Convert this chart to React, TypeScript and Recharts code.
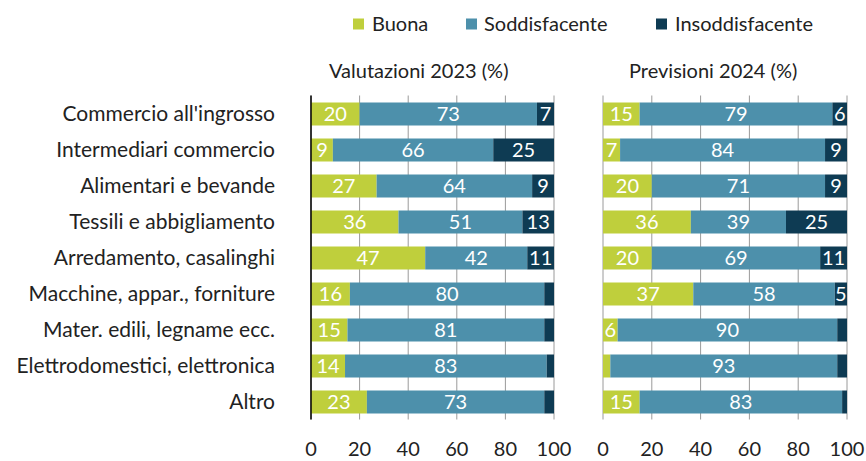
import React from "react";
import { BarChart, Bar, XAxis, YAxis, CartesianGrid, LabelList } from "recharts";

const categories = [
  "Commercio all'ingrosso",
  "Intermediari commercio",
  "Alimentari e bevande",
  "Tessili e abbigliamento",
  "Arredamento, casalinghi",
  "Macchine, appar., forniture",
  "Mater. edili, legname ecc.",
  "Elettrodomestici, elettronica",
  "Altro",
];
const buona2023 = [20, 9, 27, 36, 47, 16, 15, 14, 23];
const sodd2023 = [73, 66, 64, 51, 42, 80, 81, 83, 73];
const insod2023 = [7, 25, 9, 13, 11, 4, 4, 3, 4];
const buona2024 = [15, 7, 20, 36, 20, 37, 6, 3, 15];
const sodd2024 = [79, 84, 71, 39, 69, 58, 90, 93, 83];
const insod2024 = [6, 9, 9, 25, 11, 5, 4, 4, 2];
const xTicks = [0, 20, 40, 60, 80, 100];
const seriesNames = ["Buona", "Soddisfacente", "Insoddisfacente"];
const panelTitles = ["Valutazioni 2023 (%)", "Previsioni 2024 (%)"];
const colors = ["#BFCF3C", "#4D90AB", "#0E3B53"];

const FONT = "Lato, 'Noto Sans', sans-serif";

const data2023 = categories.map((c, i) => ({ cat: c, b: buona2023[i], s: sodd2023[i], n: insod2023[i] }));
const data2024 = categories.map((c, i) => ({ cat: c, b: buona2024[i], s: sodd2024[i], n: insod2024[i] }));

const SegLabel = (props: any) => {
  const { x, y, width, height, value } = props;
  if (value == null || value < 5) return null;
  return (
    <text x={x + width / 2} y={y + height / 2} dy="0.36em" textAnchor="middle" fill="#ffffff" fontSize={20} fontFamily={FONT}>
      {value}
    </text>
  );
};

const Panel = ({ data, showCats, plotW, leftM, rightM }: { data: any[]; showCats: boolean; plotW: number; leftM: number; rightM: number }) => {
  const yw = showCats ? 311 : 0;
  return (
    <BarChart
      width={leftM + yw + plotW + rightM}
      height={461}
      data={data}
      layout="vertical"
      margin={{ top: 95.5, bottom: 0, left: leftM, right: rightM }}
      barSize={23}
    >
      <CartesianGrid horizontal={false} vertical={true} stroke="#9a9a9a" strokeWidth={1} />
      <XAxis
        type="number"
        domain={[0, 100]}
        ticks={xTicks}
        axisLine={false}
        tickLine={false}
        tickSize={0}
        tickMargin={22}
        interval={0}
        tick={{ fill: "#222", fontSize: 20, fontFamily: FONT }}
        height={41.5}
      />
      <YAxis
        type="category"
        dataKey="cat"
        width={yw}
        axisLine={{ stroke: "#000", strokeWidth: 1.5 }}
        tickLine={false}
        tickSize={0}
        tickMargin={36}
        interval={0}
        tick={showCats ? { fill: "#222", fontSize: 21, fontFamily: FONT } : false}
      />
      <Bar dataKey="b" stackId="a" fill={colors[0]} isAnimationActive={false}>
        <LabelList dataKey="b" content={SegLabel} />
      </Bar>
      <Bar dataKey="s" stackId="a" fill={colors[1]} isAnimationActive={false}>
        <LabelList dataKey="s" content={SegLabel} />
      </Bar>
      <Bar dataKey="n" stackId="a" fill={colors[2]} isAnimationActive={false}>
        <LabelList dataKey="n" content={SegLabel} />
      </Bar>
    </BarChart>
  );
};

const legendSquareX = [353, 466, 656];
const legendTextX = [372, 484, 675];
const titleX = [329, 629];

export default function App() {
  return (
    <div style={{ position: "absolute", left: 0, top: 0, width: 866, height: 461, background: "#fff", overflow: "hidden" }}>
      <div style={{ position: "absolute", left: 0, top: 0 }}>
        <Panel data={data2023} showCats={true} plotW={243} leftM={0} rightM={20} />
      </div>
      <div style={{ position: "absolute", left: 590, top: 0 }}>
        <Panel data={data2024} showCats={false} plotW={244} leftM={13} rightM={19} />
      </div>
      <svg width={866} height={100} style={{ position: "absolute", left: 0, top: 0 }}>
        {seriesNames.map((name, i) => (
          <g key={name}>
            <rect x={legendSquareX[i]} y={18.5} width={11} height={11} fill={colors[i]} />
            <text x={legendTextX[i]} y={24} dy="0.36em" fontSize={20} fontFamily={FONT} fill="#222">
              {name}
            </text>
          </g>
        ))}
        {panelTitles.map((t, i) => (
          <text key={t} x={titleX[i]} y={70.5} dy="0.36em" fontSize={20} fontFamily={FONT} fill="#222">
            {t}
          </text>
        ))}
      </svg>
    </div>
  );
}
